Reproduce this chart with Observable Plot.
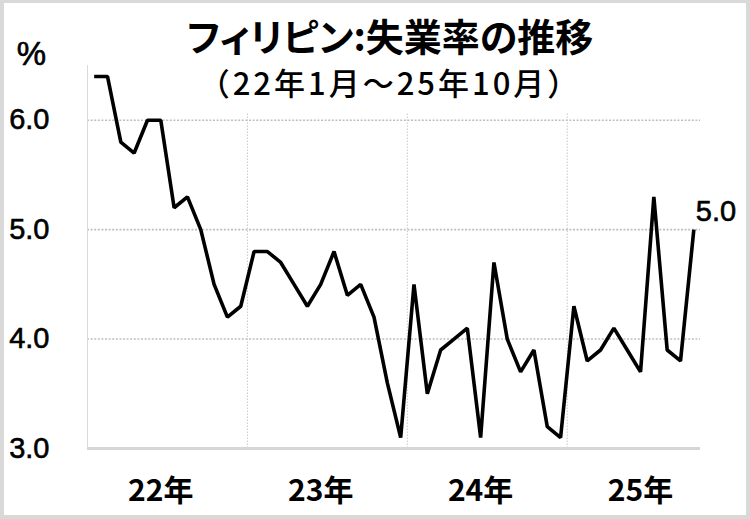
<!DOCTYPE html>
<html><head><meta charset="utf-8">
<script src="https://cdn.jsdelivr.net/npm/d3@7"></script>
<script src="https://cdn.jsdelivr.net/npm/@observablehq/plot@0.6"></script>
<style>
html,body{margin:0;padding:0;background:#fff;}
#wrap{position:relative;width:750px;height:519px;overflow:hidden;background:#fff;}
#frame{position:absolute;left:0;top:0;width:750px;height:519px;box-sizing:border-box;border:4px solid #d9d9d9;border-top-width:3px;pointer-events:none;}
.t{position:absolute;left:0;width:780px;text-align:center;font-family:"Noto Sans CJK JP";color:#000;white-space:nowrap;}
#title{top:17px;font-size:38px;font-weight:700;line-height:36px;height:36px;font-feature-settings:"palt";}
#sub{top:66px;font-size:31px;line-height:32px;height:32px;letter-spacing:3px;font-weight:500;}
</style></head>
<body>
<div id="wrap">
  <div id="chart"></div>
  <div class="t" id="title">フィリピン:失業率の推移</div>
  <div class="t" id="sub">（22年1月～25年10月）</div>
  <div id="frame"></div>
</div>
<script>
const months = [
  "22/01","22/02","22/03","22/04","22/05","22/06","22/07","22/08","22/09","22/10","22/11","22/12",
  "23/01","23/02","23/03","23/04","23/05","23/06","23/07","23/08","23/09","23/10","23/11","23/12",
  "24/01","24/02","24/03","24/04","24/05","24/06","24/07","24/08","24/09","24/10","24/11","24/12",
  "25/01","25/02","25/03","25/04","25/05","25/06","25/07","25/08","25/09","25/10"
];
const unemployment = [
  6.4, 6.4, 5.8, 5.7, 6.0, 6.0, 5.2, 5.3, 5.0, 4.5, 4.2, 4.3,
  4.8, 4.8, 4.7, 4.5, 4.3, 4.5, 4.8, 4.4, 4.5, 4.2, 3.6, 3.1,
  4.5, 3.5, 3.9, 4.0, 4.1, 3.1, 4.7, 4.0, 3.7, 3.9, 3.2, 3.1,
  4.3, 3.8, 3.9, 4.1, 3.9, 3.7, 5.3, 3.9, 3.8, 5.0
];
const years = ["22","23","24","25"];
const yearLabels = ["22年","23年","24年","25年"];
const yTicks = [3, 4, 5, 6];
const yTickLabels = ["3.0","4.0","5.0","6.0"];
const unitLabel = "%";

const data = months.map((m, i) => ({month: m, i: i + 0.5, v: unemployment[i]}));
const yearStart = years.map(y => months.findIndex(m => m.startsWith(y + "/")));
const yearText = years.map((y, k) => ({pos: yearStart[k] + 5.5, label: yearLabels[k]}));
const boundaries = yearStart.slice(1);
const nMonths = months.length;
const last = data[data.length - 1];
const jp = '"Noto Sans CJK JP", sans-serif';
const lat = '"Liberation Sans", Arial, sans-serif';
const heavy = {fill: "#000", stroke: "#000", strokeWidth: 0.6, fontFamily: lat};

const chart = Plot.plot({
  width: 750,
  height: 519,
  marginLeft: 87,
  marginRight: 50,
  marginTop: 65,
  marginBottom: 71,
  style: {background: "transparent", fontFamily: lat},
  x: {type: "linear", domain: [0, nMonths], axis: null},
  y: {domain: [3, 6.5], axis: null},
  marks: [
    Plot.ruleY(yTicks.filter(t => t > 3), {x1: 0, x2: nMonths, stroke: "#bfbfbf", strokeWidth: 1.6, strokeDasharray: "2,1.6"}),
    Plot.ruleX(boundaries, {y1: 3, y2: 6.07, stroke: "#c8c8c8", strokeWidth: 1, strokeDasharray: "1.5,1.5"}),
    Plot.ruleX([0], {y1: 3, y2: 6.5, stroke: "#dadada", strokeWidth: 1}),
    Plot.ruleY([3], {x1: 0, x2: nMonths, stroke: "#d6d6d6", strokeWidth: 3}),
    Plot.line(data, {x: "i", y: "v", stroke: "#000", strokeWidth: 3.6, strokeLinejoin: "miter", strokeLinecap: "butt"}),
    Plot.text(yTicks, {x: () => 0, y: d => d, text: (d, k) => yTickLabels[k], textAnchor: "end", lineAnchor: "middle", dx: -38, fontSize: 29, ...heavy}),
    Plot.text(yearText, {x: "pos", y: () => 3, text: "label", lineAnchor: "middle", dy: 43, fontSize: 30, fontWeight: 700, fill: "#000", fontFamily: jp}),
    Plot.text([last], {x: "i", y: "v", text: d => d.v.toFixed(1), textAnchor: "start", lineAnchor: "middle", dx: 2, dy: -18, fontSize: 29, ...heavy}),
    Plot.text([unitLabel], {frameAnchor: "top-left", text: d => d, textAnchor: "middle", lineAnchor: "middle", dx: -56, dy: -11, fontSize: 33, ...heavy})
  ]
});
document.getElementById("chart").appendChild(chart);
</script>
</body></html>
